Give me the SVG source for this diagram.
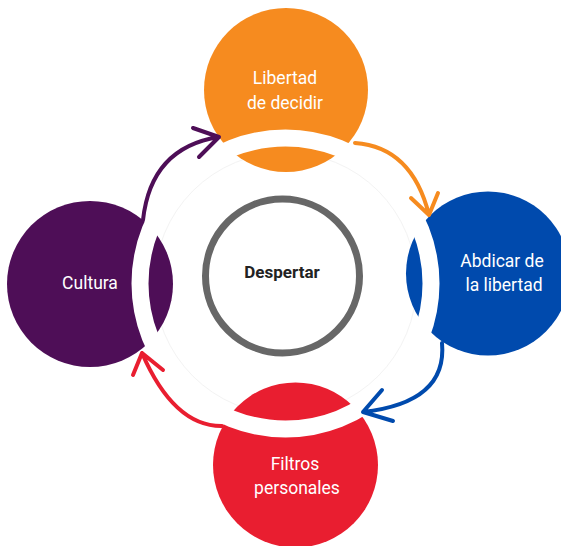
<svg xmlns="http://www.w3.org/2000/svg" width="561" height="546" viewBox="0 0 561 546">
<style>
.lbl{font-family:Roboto,"Liberation Sans",sans-serif;font-size:17.5px;fill:#ffffff;text-anchor:middle}
.ctr{font-family:Roboto,"Liberation Sans",sans-serif;font-size:17px;font-weight:bold;fill:#222222;text-anchor:middle}
.arr{fill:none;stroke-width:4;stroke-linecap:round;stroke-linejoin:round}
</style>
<rect width="561" height="546" fill="#ffffff"/>
<circle cx="285.5" cy="283.5" r="131" fill="none" stroke="#f3f3f3" stroke-width="1"/>
<g id="nodes-bg">
<circle cx="286" cy="90" r="82" fill="#F68B1F"/>
<circle cx="488" cy="273.5" r="82" fill="#004AAD"/>
<circle cx="295.5" cy="465" r="82.5" fill="#E91E30"/>
<circle cx="90" cy="284" r="83" fill="#4E0E57"/>
</g>
<g id="ring">
<circle cx="285.5" cy="283.5" r="145.5" fill="none" stroke="#ffffff" stroke-width="17"/>
</g>
<g id="despertar">
<circle cx="282.5" cy="276" r="77" fill="#ffffff" stroke="#676767" stroke-width="7"/>
<text class="ctr" x="282" y="278">Despertar</text>
</g>
<g id="libertad-de-decidir">
<text class="lbl" x="285" y="84">Libertad</text>
<text class="lbl" x="285" y="109">de decidir</text>
</g>
<g id="abdicar-de-la-libertad">
<text class="lbl" x="502" y="267">Abdicar de</text>
<text class="lbl" x="504" y="291">la libertad</text>
</g>
<g id="filtros-personales">
<text class="lbl" x="295" y="470">Filtros</text>
<text class="lbl" x="297" y="494">personales</text>
</g>
<g id="cultura">
<text class="lbl" x="90" y="289">Cultura</text>
</g>
<g id="connectors">
<path class="arr" stroke="#4E0E57" d="M143,220 Q151,147.5 219,137 M193,128 L219,137 L199,157"/>
<path class="arr" stroke="#F68B1F" d="M355,143 Q412,147 429,215 M411,198 L429,215 L438,193"/>
<path class="arr" stroke="#004AAD" d="M442,343 Q447.5,402.5 363,412 M382,390 L363,412 L393,421"/>
<path class="arr" stroke="#E91E30" d="M222,426 Q174,426.5 142,353 M133,375 L142,353 L163,370"/>
</g>
</svg>
